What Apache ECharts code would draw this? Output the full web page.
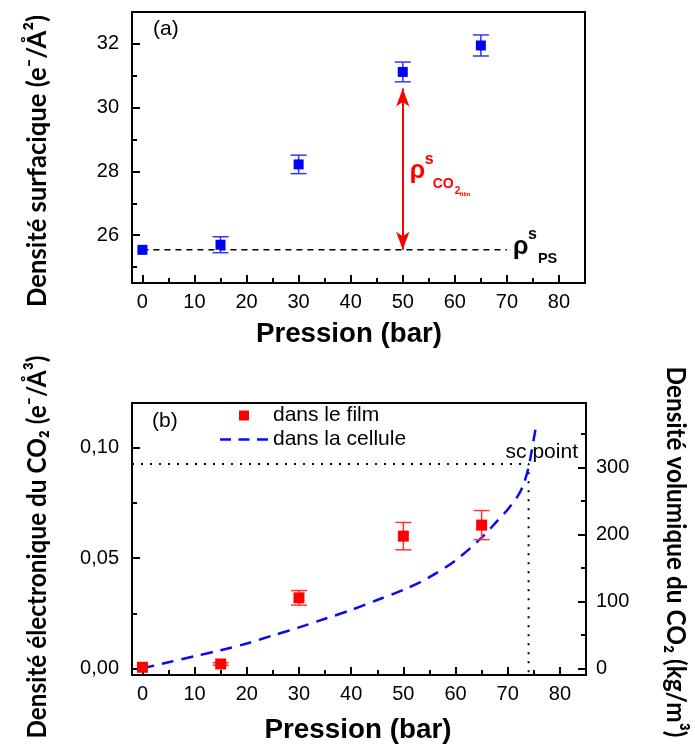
<!DOCTYPE html>
<html><head><meta charset="utf-8">
<script src="https://cdn.jsdelivr.net/npm/echarts@6/dist/echarts.min.js"></script>
<style>html,body{margin:0;padding:0;background:#fff}#c{width:695px;height:745px}</style>
</head><body><div id="c"></div>
<script>
// ---------- data ----------
const pressA = [0, 15, 30, 50, 65];
const densSurf = [25.54, 25.70, 28.22, 31.12, 31.95];
const densSurfErr = [0, 0.25, 0.29, 0.31, 0.33];
const psLevel = 25.54;
const psLineX = [0, 70];
const arrowX = 50;
const arrowTop = 30.6;

const pressB = [0, 15, 30, 50, 65];
const densFilm = [0.0005, 0.002, 0.032, 0.060, 0.065];
const densFilmErr = [0, 0.0006, 0.0033, 0.0062, 0.0066];

const cellP =   [0, 5, 10, 15, 20, 25, 30, 35, 40, 45, 50, 55, 60, 65, 68, 70, 72, 73, 74, 74.6, 75.3];
const cellRho = [0, 9, 18, 27, 37, 49, 61, 74, 87, 102, 117, 136, 161, 195, 220, 237, 258, 274, 300, 325, 356];

const scP = 74, scRho = 305;

const xTicks = [0, 10, 20, 30, 40, 50, 60, 70, 80];
const xMinor = [5, 15, 25, 35, 45, 55, 65, 75];
const yTicksA = [26, 28, 30, 32];
const yMinorA = [25, 27, 29, 31];
const yTicksB = [0, 0.05, 0.10];
const yMinorB = [0.025, 0.075];
const yTicksR = [0, 100, 200, 300];
const yMinorR = [50, 150, 250, 350];

const X_MIN = -2, X_MAX = 85;
const YA_MIN = 24.5, YA_MAX = 33;
const YB_MIN = -0.003, YB_MAX = 0.1204;
const YR_MIN = -10, YR_MAX = 396;

// ---------- helpers ----------
const FONT = 'Liberation Sans, Arial, sans-serif';
const BLK = '#000';
function major(type, grid, min, max, pos, ticks, margin, fmt) {
  return {
    type: 'value', gridIndex: grid, min: min, max: max, position: pos,
    axisLine: { show: true, onZero: false, lineStyle: { color: BLK, width: 2 } },
    axisTick: { show: true, inside: true, length: 8, lineStyle: { color: BLK, width: 2 }, customValues: ticks },
    axisLabel: { show: true, customValues: ticks, margin: margin, color: BLK, fontSize: 20, fontFamily: FONT, formatter: fmt },
    splitLine: { show: false }
  };
}
function minor(grid, min, max, pos, ticks) {
  return {
    type: 'value', gridIndex: grid, min: min, max: max, position: pos,
    axisLine: { show: false, onZero: false },
    axisTick: { show: true, inside: true, length: 5, lineStyle: { color: BLK, width: 2 }, customValues: ticks },
    axisLabel: { show: false },
    splitLine: { show: false }
  };
}
function errRender(color) {
  return function (params, api) {
    const x = api.value(0), y = api.value(1), e = api.value(2);
    if (!e) return { type: 'group', children: [] };
    const t = api.coord([x, y + e]), b = api.coord([x, y - e]);
    const hw = 8, st = { stroke: color, lineWidth: 1.5 };
    return { type: 'group', children: [
      { type: 'line', shape: { x1: t[0], y1: t[1], x2: b[0], y2: b[1] }, style: st },
      { type: 'line', shape: { x1: t[0] - hw, y1: t[1], x2: t[0] + hw, y2: t[1] }, style: st },
      { type: 'line', shape: { x1: b[0] - hw, y1: b[1], x2: b[0] + hw, y2: b[1] }, style: st }
    ] };
  };
}
const fmtComma = v => v.toFixed(2).replace('.', ',');

const chart = echarts.init(document.getElementById('c'), null, { renderer: 'canvas' });
const option = {
  animation: false,
  backgroundColor: '#fff',
  grid: [
    { left: 132, top: 12, width: 453, height: 271, show: true, borderColor: BLK, borderWidth: 2, outerBoundsMode: 'none', containLabel: false },
    { left: 132, top: 403, width: 454, height: 272, show: true, borderColor: BLK, borderWidth: 2, outerBoundsMode: 'none', containLabel: false }
  ],
  xAxis: [
    major('x', 0, X_MIN, X_MAX, 'bottom', xTicks, 9),
    minor(0, X_MIN, X_MAX, 'bottom', xMinor),
    major('x', 1, X_MIN, X_MAX, 'bottom', xTicks, 9),
    minor(1, X_MIN, X_MAX, 'bottom', xMinor)
  ],
  yAxis: [
    major('y', 0, YA_MIN, YA_MAX, 'left', yTicksA, 13),
    minor(0, YA_MIN, YA_MAX, 'left', yMinorA),
    major('y', 1, YB_MIN, YB_MAX, 'left', yTicksB, 13, fmtComma),
    minor(1, YB_MIN, YB_MAX, 'left', yMinorB),
    major('y', 1, YR_MIN, YR_MAX, 'right', yTicksR, 10),
    minor(1, YR_MIN, YR_MAX, 'right', yMinorR)
  ],
  legend: {
    orient: 'vertical', left: 220, top: 405, padding: 0, itemWidth: 48, itemHeight: 10, itemGap: 3,
    selectedMode: false, symbolKeepAspect: true,
    textStyle: { fontSize: 21, fontFamily: FONT, color: BLK, lineHeight: 21 },
    data: [
      { name: 'dans le film', icon: 'path://M0,0H10V10H0Z', itemStyle: { opacity: 1 } },
      { name: 'dans la cellule', icon: 'path://M0,0H11V2.5H0Z M18.5,0H29.5V2.5H18.5Z M37,0H48V2.5H37Z', itemStyle: { opacity: 1 } }
    ]
  },
  series: [
    { // 0: PS reference dashed line + arrow
      type: 'line', xAxisIndex: 0, yAxisIndex: 0, symbol: 'none', silent: true,
      data: psLineX.map(x => [x, psLevel]),
      lineStyle: { color: BLK, width: 1.5, type: [6, 5] },
      markLine: {
        silent: true, symbol: ['arrow', 'arrow'], symbolSize: [10, 18],
        label: { show: false },
        lineStyle: { color: '#ff0000', width: 2, type: 'solid' },
        data: [[{ coord: [arrowX, psLevel] }, { coord: [arrowX, arrowTop] }]]
      }
    },
    { // 1: error bars (a)
      type: 'custom', xAxisIndex: 0, yAxisIndex: 0, silent: true,
      renderItem: errRender('#3535ff'),
      data: pressA.map((p, i) => [p, densSurf[i], densSurfErr[i]]), z: 3
    },
    { // 2: squares (a)
      type: 'scatter', xAxisIndex: 0, yAxisIndex: 0, symbol: 'rect', symbolSize: 10,
      itemStyle: { color: '#0000ff', opacity: 1 }, data: pressA.map((p, i) => [p, densSurf[i]]), z: 4
    },
    { // 3: error bars (b)
      type: 'custom', xAxisIndex: 2, yAxisIndex: 2, silent: true,
      renderItem: errRender('#ff3535'),
      data: pressB.map((p, i) => [p, densFilm[i], densFilmErr[i]]), z: 3
    },
    { // 4: squares (b)
      name: 'dans le film',
      type: 'scatter', xAxisIndex: 2, yAxisIndex: 2, symbol: 'rect', symbolSize: 11,
      itemStyle: { color: '#ff0000', opacity: 1 }, data: pressB.map((p, i) => [p, densFilm[i]]), z: 4
    },
    { // 5: cell density
      name: 'dans la cellule',
      type: 'line', xAxisIndex: 2, yAxisIndex: 4, symbol: 'none', smooth: 0.3,
      lineStyle: { color: '#0a0aee', width: 2.5, type: [12, 8] },
      itemStyle: { color: '#0a0aee' },
      data: cellP.map((p, i) => [p, cellRho[i]]), z: 2
    },
    { // 6: sc point dotted lines
      type: 'line', xAxisIndex: 2, yAxisIndex: 4, symbol: 'none', silent: true,
      lineStyle: { color: BLK, width: 2, type: [2, 7] },
      data: [[X_MIN, scRho], [scP, scRho], [scP, YR_MIN]], z: 1
    }
  ]
};
chart.setOption(option);

// ---------- text annotations ----------
const mctx = document.createElement('canvas').getContext('2d');
function fitText(text, font, cx, cy, rot, target) {
  mctx.font = font;
  const w = mctx.measureText(text).width;
  const s = target / w;
  return {
    type: 'text', x: cx, y: cy, rotation: rot, scaleX: s, scaleY: 1, silent: true,
    style: { text: text, font: font, fill: BLK, align: 'center', verticalAlign: 'middle', textAlign: 'center', textVerticalAlign: 'middle' }
  };
}
function txt(text, size, bold, color, x, y) {
  const font = (bold ? 'bold ' : '') + size + 'px ' + FONT;
  return { type: 'text', x: x, y: y, silent: true, z: 10,
    style: { text: text, font: font, fill: color, align: 'left', verticalAlign: 'middle', textAlign: 'left', textVerticalAlign: 'middle' } };
}
const TF = 'bold 27px Lato, "Open Sans", sans-serif';
const PF = 'bold 27px ' + FONT;
const pRed = chart.convertToPixel({ seriesIndex: 0 }, [arrowX, 28]);
const pPs = chart.convertToPixel({ seriesIndex: 0 }, [psLineX[1], psLevel]);
const pSc = chart.convertToPixel({ seriesIndex: 6 }, [scP, scRho]);
const RED = '#ff0000';
chart.setOption({
  graphic: [
    fitText('Densité surfacique (e⁻/Å²)', TF, 37, 161, Math.PI / 2, 292),
    fitText('Densité électronique du CO₂ (e⁻/Å³)', TF, 37, 547, Math.PI / 2, 383),
    fitText('Densité volumique du CO₂ (kg/m³)', TF, 676, 552, -Math.PI / 2, 371),
    fitText('Pression (bar)', PF, 349, 335, 0, 186),
    fitText('Pression (bar)', PF, 358, 731, 0, 187),
    txt('(a)', 21, false, BLK, 153, 29),
    txt('(b)', 21, false, BLK, 152, 421),
    txt('sc point', 21, false, BLK, pSc[0] - 23, pSc[1] - 12),
    txt('ρ', 25, true, RED, pRed[0] + 7, pRed[1] - 0.5),
    txt('s', 16, true, RED, pRed[0] + 22, pRed[1] - 12),
    txt('CO', 14, true, RED, pRed[0] + 30, pRed[1] + 13),
    txt('2', 10, true, RED, pRed[0] + 52, pRed[1] + 20),
    txt('film', 6, true, RED, pRed[0] + 57, pRed[1] + 23),
    txt('ρ', 25, true, BLK, pPs[0] + 6, pPs[1] - 3),
    txt('s', 16, true, BLK, pPs[0] + 21, pPs[1] - 15.5),
    txt('PS', 14.5, true, BLK, pPs[0] + 31, pPs[1] + 9)
  ]
});
</script></body></html>
